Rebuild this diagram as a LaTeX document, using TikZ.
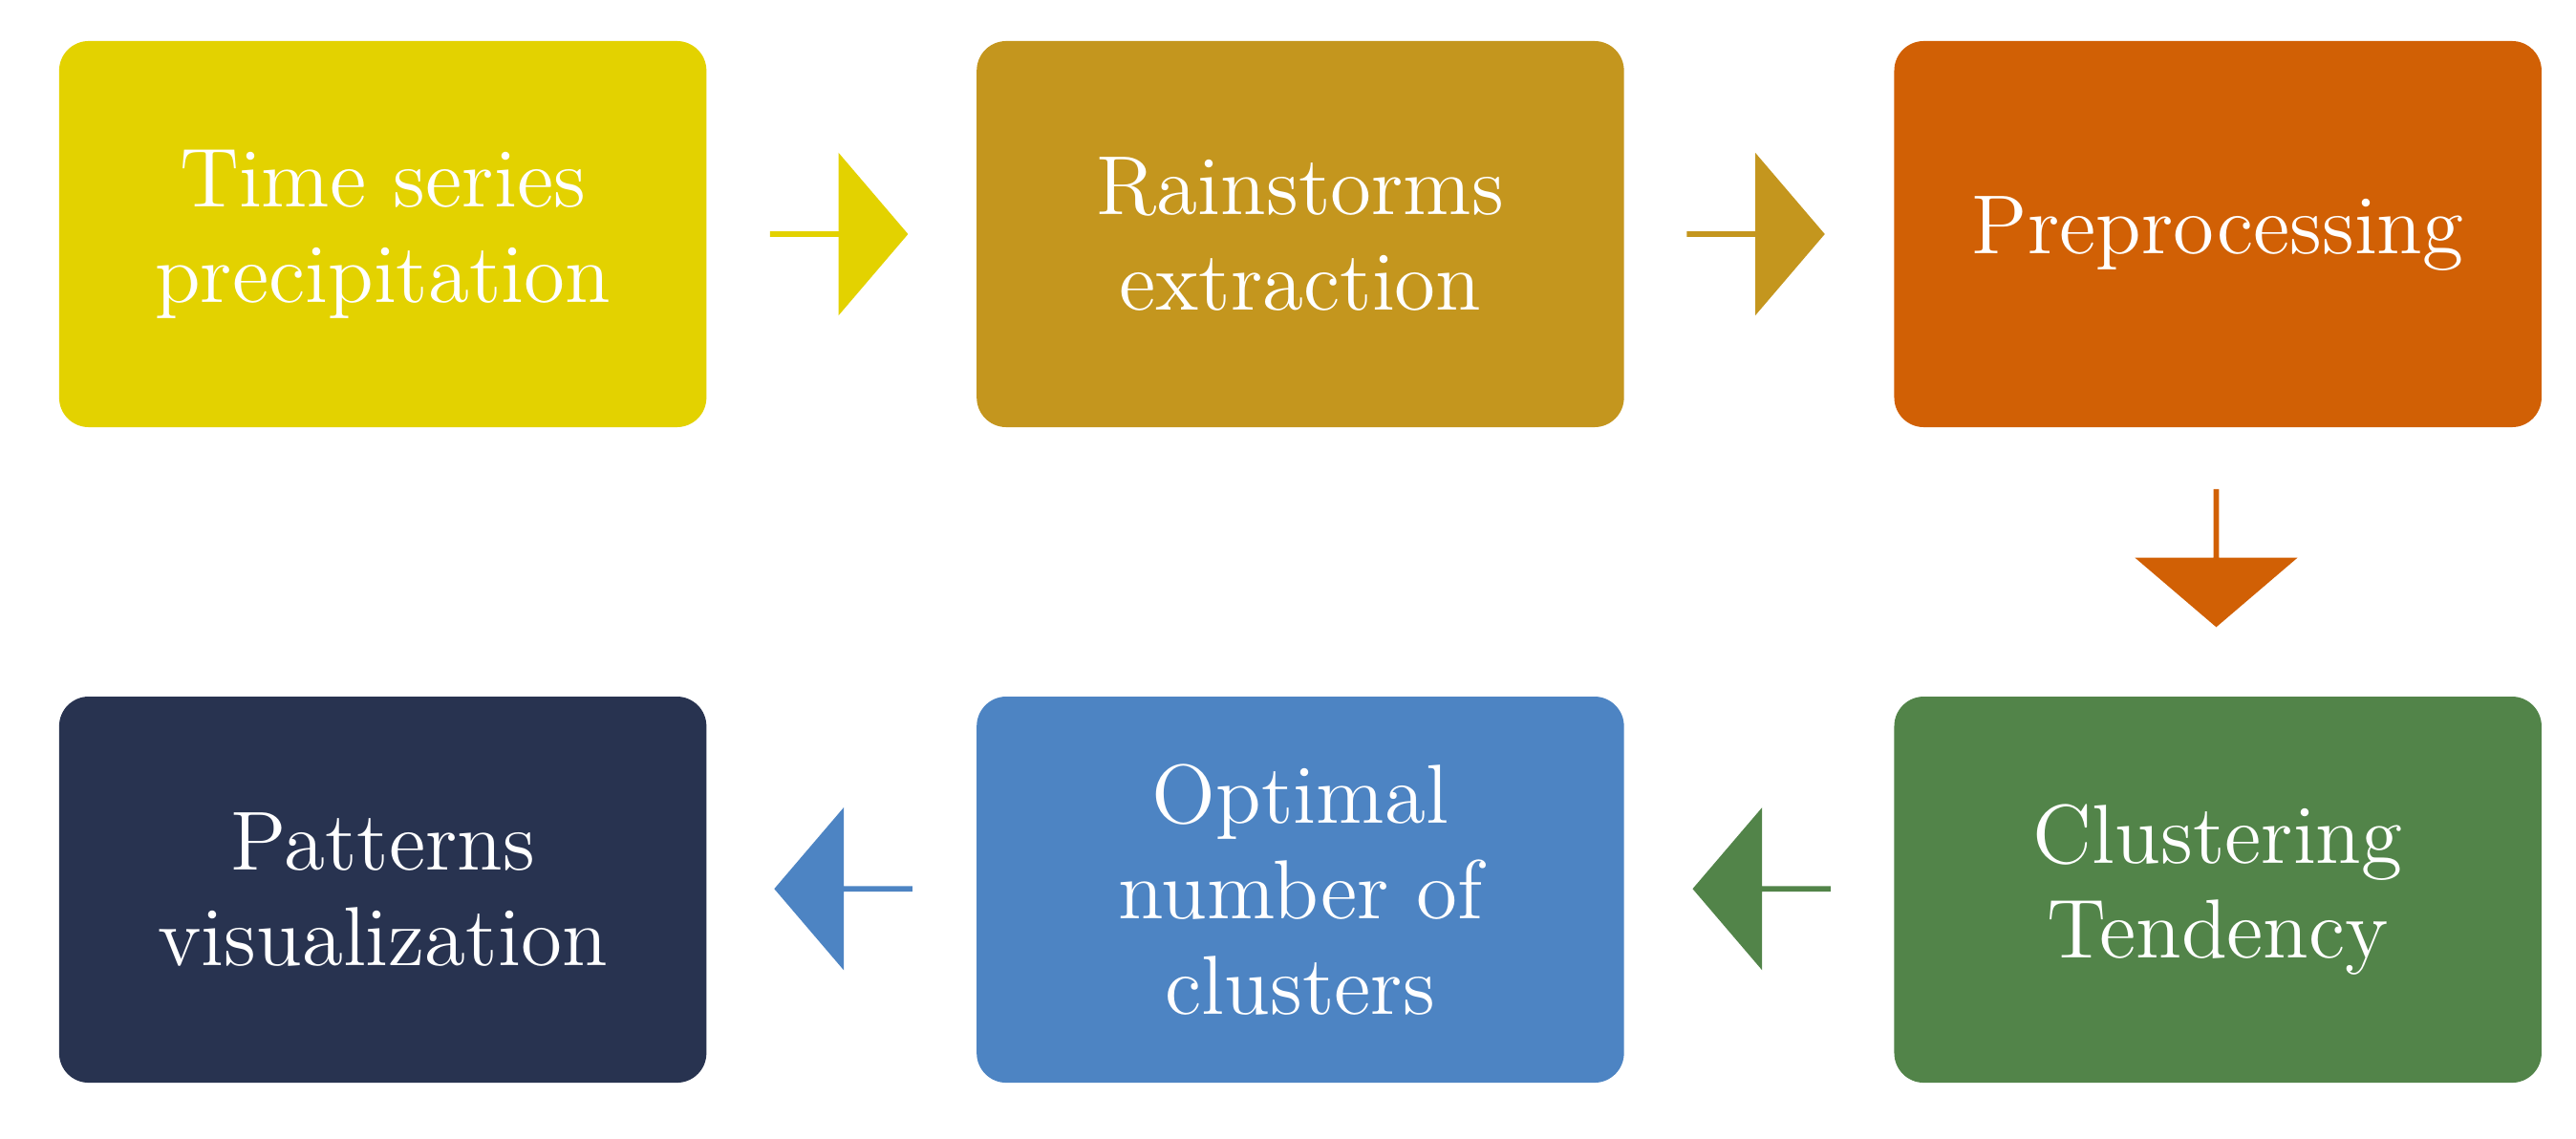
\documentclass[tikz,border=0pt]{standalone}
\usepackage{tikz}
\usetikzlibrary{shapes.arrows,positioning}
\definecolor{cyellow}{HTML}{E3D200}
\definecolor{cgold}{HTML}{C4961E}
\definecolor{corange}{HTML}{D16005}
\definecolor{cgreen}{HTML}{528449}
\definecolor{cblue}{HTML}{4D84C3}
\definecolor{cnavy}{HTML}{283350}
\begin{document}
\begin{tikzpicture}[
  stage/.style={rounded corners=0.18cm, minimum width=3.94cm, minimum height=2.35cm,
    text=white, align=center, font=\fontsize{14.5}{16.5}\selectfont, inner sep=0pt},
  flow/.style={single arrow, inner sep=0pt, minimum height=0.84cm, minimum width=0.99cm,
    single arrow head extend=0.2cm, single arrow tip angle=99}]
\useasboundingbox (0,0) rectangle (15.68,6.93);

\node[stage, fill=cyellow] (series) at (2.33,5.505) {Time series\\precipitation};
\node[stage, fill=cgold] (storms) at (7.915,5.505) {Rainstorms\\extraction};
\node[stage, fill=corange] (prep) at (13.50,5.505) {Preprocessing};
\node[stage, fill=cgreen] (tend) at (13.50,1.515) {Clustering\\Tendency};
\node[stage, fill=cblue] (optim) at (7.915,1.515) {Optimal\\number of\\clusters};
\node[stage, fill=cnavy] (vis) at (2.33,1.515) {Patterns\\visualization};

\node[flow, fill=cyellow] (a1) at (5.10,5.505) {};
\node[flow, fill=cgold] (a2) at (10.68,5.505) {};
\node[flow, fill=corange, shape border rotate=270] (a3) at (13.49,3.54) {};
\node[flow, fill=cgreen, shape border rotate=180] (a4) at (10.73,1.52) {};
\node[flow, fill=cblue, shape border rotate=180] (a5) at (5.14,1.52) {};

\end{tikzpicture}
\end{document}
